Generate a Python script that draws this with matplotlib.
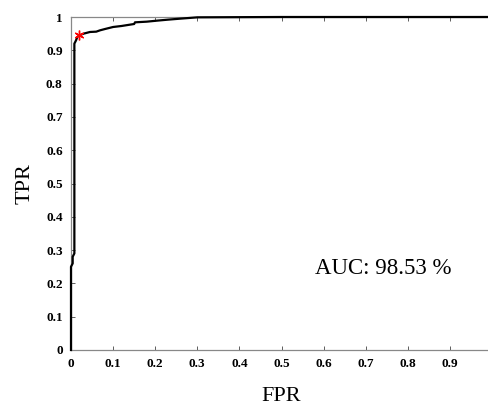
import matplotlib
matplotlib.use("Agg")
import matplotlib.pyplot as plt

fpr = [0.0, 0.0, 0.004, 0.004, 0.008, 0.008, 0.012, 0.015, 0.02, 0.03, 0.045, 0.060, 0.069, 0.081,
       0.1, 0.12, 0.14, 0.15, 0.152, 0.18, 0.204, 0.23, 0.259, 0.28, 0.3, 0.5, 1.0]
tpr = [0.0, 0.25, 0.26, 0.28, 0.29, 0.92, 0.93, 0.94, 0.945, 0.95, 0.955, 0.956, 0.960, 0.964,
       0.970, 0.973, 0.977, 0.979, 0.984, 0.986, 0.989, 0.992, 0.995, 0.997, 0.999, 1.0, 1.0]
op_fpr = [0.02]
op_tpr = [0.946]
auc_text = "AUC: 98.53 %"
xticks = [0, 0.1, 0.2, 0.3, 0.4, 0.5, 0.6, 0.7, 0.8, 0.9, 1]
yticks = [0, 0.1, 0.2, 0.3, 0.4, 0.5, 0.6, 0.7, 0.8, 0.9, 1]

def fmt(v):
    return "0" if v == 0 else ("1" if v == 1 else f"{v:.1f}")

fig = plt.figure(figsize=(4.88, 4.08), dpi=100)
ax = fig.add_axes([71/488, 1-350/408, 421/488, 333/408])
ax.plot(fpr, tpr, color="black", lw=1.6, clip_on=False, zorder=3)
ax.plot(op_fpr, op_tpr, marker=(6, 2, 0), color="red", ms=7, mew=1.0, ls="none", zorder=4, clip_on=False)
ax.set_xlim(0, 1)
ax.set_ylim(0, 1)
ax.set_xticks(xticks)
ax.set_yticks(yticks)
xl = [fmt(v) for v in xticks]
xl[-1] = ""
ax.set_xticklabels(xl, fontfamily="Liberation Serif", fontweight="bold", fontsize=9.5)
ax.set_yticklabels([fmt(v) for v in yticks], fontfamily="Liberation Serif", fontweight="bold", fontsize=9.5)
ax.tick_params(direction="in", length=3, width=0.6, color="#444444", top=True, right=True, pad=6)
for s in ax.spines.values():
    s.set_color("#888888")
    s.set_linewidth(0.9)
ax.set_xlabel("FPR", fontfamily="Liberation Serif", fontsize=16, labelpad=12)
ax.set_ylabel("TPR", fontfamily="Liberation Serif", fontsize=16, labelpad=8)
ax.text(0.58, 0.245, auc_text, fontfamily="Liberation Serif", fontsize=16.5, va="center", ha="left")
fig.savefig("out.png", dpi=100)
